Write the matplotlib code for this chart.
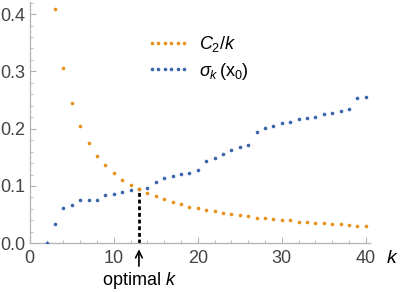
import matplotlib
matplotlib.use('Agg')
import matplotlib.pyplot as plt
from matplotlib.lines import Line2D
from matplotlib.ticker import MultipleLocator

# number of clusters k
k_orange = list(range(3, 41))
k_blue = list(range(2, 41))

# C2/k curve
c2_over_k = [0.408, 0.306, 0.245, 0.204, 0.175, 0.153, 0.136, 0.1225, 0.111, 0.102,
             0.094, 0.0875, 0.082, 0.077, 0.072, 0.068, 0.064, 0.061, 0.058, 0.056,
             0.053, 0.051, 0.049, 0.047, 0.045, 0.044, 0.042, 0.041, 0.040, 0.038,
             0.037, 0.036, 0.035, 0.034, 0.033, 0.032, 0.031, 0.031]

# sigma_k(x0)
sigma_k = [0.0, 0.033, 0.062, 0.066, 0.075, 0.075, 0.075, 0.084, 0.086, 0.090,
           0.0925, 0.094, 0.0965, 0.1075, 0.114, 0.117, 0.121, 0.123, 0.128, 0.1436,
           0.148, 0.156, 0.163, 0.168, 0.1716, 0.194, 0.201, 0.205, 0.2094, 0.2117,
           0.2164, 0.2187, 0.2205, 0.2251, 0.2274, 0.2314, 0.2344, 0.253, 0.256]

k_opt = 13

x_ticks = [0, 10, 20, 30, 40]
y_ticks = [0.0, 0.1, 0.2, 0.3, 0.4]
y_ticklabels = ['0.0', '0.1', '0.2', '0.3', '0.4']

ORANGE = '#E8901A'
BLUE = '#3B64AD'
AXIS_GRAY = '#b3b3b3'
TEXT_GRAY = '#444444'

plt.rcParams['font.family'] = ['Liberation Sans', 'DejaVu Sans']
plt.rcParams['mathtext.fontset'] = 'custom'
plt.rcParams['mathtext.rm'] = 'Liberation Sans'
plt.rcParams['mathtext.it'] = 'Liberation Sans:italic'

fig = plt.figure(figsize=(4.02, 2.93), dpi=100)
ax = fig.add_axes([0.0739, 0.1696, 0.8465, 0.8235])

ax.plot(k_blue, sigma_k, 'o', color=BLUE, markersize=2.6, markeredgewidth=0, zorder=3)
ax.plot(k_orange, c2_over_k, 'o', color=ORANGE, markersize=2.6, markeredgewidth=0, zorder=4)

# dashed drop line at the optimal k
y_opt = c2_over_k[k_orange.index(k_opt)]
ax.plot([k_opt, k_opt], [0, y_opt], color='black', lw=2.0,
        linestyle=(0, (1.4, 1.0)), zorder=2)

ax.annotate('optimal $k$', xy=(k_opt, 0), xycoords='data',
            xytext=(0, -26.5), textcoords='offset points',
            ha='center', va='center', fontsize=13, color='black',
            arrowprops=dict(arrowstyle='->', color='black', lw=1.2,
                            shrinkA=0.5, shrinkB=4.3, mutation_scale=12),
            annotation_clip=False)

ax.set_xlim(0, 40.5)
ax.set_ylim(0, 0.421)
ax.set_xticks(x_ticks)
ax.set_yticks(y_ticks)
ax.set_yticklabels(y_ticklabels)
ax.xaxis.set_minor_locator(MultipleLocator(2))
ax.yaxis.set_minor_locator(MultipleLocator(0.02))

for side in ['top', 'right']:
    ax.spines[side].set_visible(False)
for side in ['left', 'bottom']:
    ax.spines[side].set_color(AXIS_GRAY)
    ax.spines[side].set_linewidth(0.9)

ax.tick_params(which='both', direction='in', color=AXIS_GRAY, labelcolor=TEXT_GRAY,
               labelsize=13)
ax.tick_params(which='major', length=4, width=0.8)
ax.tick_params(which='minor', length=2, width=0.6)
ax.tick_params(axis='x', pad=5)
ax.tick_params(axis='y', pad=3)

ax.set_xlabel('$k$', fontsize=14, color='black', va='center')
ax.xaxis.set_label_coords(1.065, -0.061)

handles = [
    Line2D([], [], linestyle='none', marker='o', color=ORANGE, markersize=2.6,
           markeredgewidth=0),
    Line2D([], [], linestyle='none', marker='o', color=BLUE, markersize=2.6,
           markeredgewidth=0),
]
ax.legend(handles, ['$C_2/k$', r'$\sigma_k\,(\mathrm{x}_0)$'], numpoints=6,
          loc='upper left', bbox_to_anchor=(0.295, 0.934), frameon=False,
          fontsize=13, handlelength=2.4, handletextpad=0.5, labelspacing=0.35)

fig.savefig('out.png', dpi=100)
